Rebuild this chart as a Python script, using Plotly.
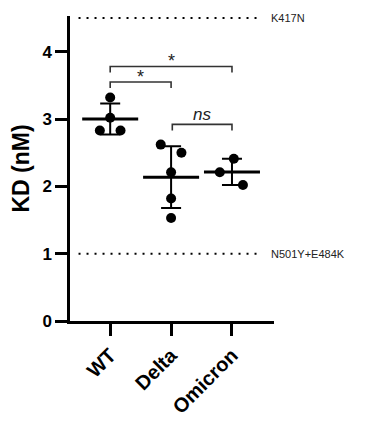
import numpy as np
import plotly.graph_objects as go

# ---- data ----
groups = ["WT", "Delta", "Omicron"]
wt_kd = [3.32, 3.02, 2.83, 2.83]
delta_kd = [2.62, 2.50, 2.21, 1.82, 1.53]
omicron_kd = [2.21, 2.41, 2.02]
# horizontal scatter offsets of each dot (in category units)
wt_jitter = [0.0, 0.0, -0.17, 0.17]
delta_jitter = [-0.17, 0.17, 0.0, 0.0, 0.0]
omicron_jitter = [-0.2, 0.03, 0.18]
y_ticks = [0, 1, 2, 3, 4]
ref_values = [4.5, 1.0]
ref_labels = ["K417N", "N501Y+E484K"]
comparisons = [(0, 1, "*"), (0, 2, "*"), (1, 2, "ns")]
bracket_heights = [3.55, 3.78, 2.92]

FONT = "Arial, Liberation Sans, sans-serif"
all_vals = [wt_kd, delta_kd, omicron_kd]
all_jit = [wt_jitter, delta_jitter, omicron_jitter]

fig = go.Figure()

means = [float(np.mean(v)) for v in all_vals]
sds = [float(np.std(v, ddof=1)) for v in all_vals]
xs = list(range(len(groups)))

# mean line + SD error bars
fig.add_trace(go.Scatter(
    x=xs, y=means, mode="markers",
    marker=dict(symbol="line-ew", size=40, color="black",
                line=dict(width=3, color="black")),
    error_y=dict(type="data", array=sds, visible=True, width=10,
                 thickness=2, color="black"),
    showlegend=False, hoverinfo="skip"))

# individual points
for i, (vals, jit) in enumerate(zip(all_vals, all_jit)):
    fig.add_trace(go.Scatter(
        x=[i + j for j in jit], y=vals, mode="markers",
        marker=dict(size=10, color="black"),
        showlegend=False, cliponaxis=False))

# reference dotted lines
for val, lab in zip(ref_values, ref_labels):
    fig.add_shape(type="line", xref="x", yref="y", x0=-0.52, x1=2.49,
                  y0=val, y1=val,
                  line=dict(color="black", width=2, dash="2px,6px"))
    fig.add_annotation(x=2.6, y=val, xref="x", yref="y", text=lab,
                       showarrow=False, xanchor="left", yanchor="middle",
                       font=dict(family=FONT, size=11, color="#222"))

# significance brackets
for (a, b, lab), h in zip(comparisons, bracket_heights):
    xa = a + (0.02 if lab == "ns" else 0.0)
    fig.add_trace(go.Scatter(
        x=[xa, xa, b, b], y=[h - 0.09, h, h, h - 0.09], mode="lines",
        line=dict(color="#333", width=1.6), showlegend=False,
        hoverinfo="skip"))
    if lab == "*":
        fig.add_annotation(x=(a + b) / 2, y=h + 0.08, text=lab,
                           showarrow=False, yanchor="middle",
                           font=dict(family=FONT, size=18, color="#222"))
    else:
        fig.add_annotation(x=(xa + b) / 2, y=h + 0.14,
                           text="<i>" + lab + "</i>", showarrow=False,
                           yanchor="middle",
                           font=dict(family=FONT, size=17, color="#222"))

# page body has an 8px default margin, so the figure is offset by 8px
fig.update_layout(
    width=360, height=419,
    margin=dict(l=62, r=94, t=8, b=106),
    paper_bgcolor="white", plot_bgcolor="white",
    font=dict(family=FONT, color="black"),
    xaxis=dict(range=[-0.66, 2.69], tickmode="array", tickvals=xs,
               ticktext=["<b>%s</b>" % g for g in groups],
               tickangle=-45, ticks="outside", ticklen=12, tickwidth=2.5,
               tickcolor="black", showline=True, linewidth=2.5,
               linecolor="black", showgrid=False, zeroline=False,
               automargin=False,
               tickfont=dict(family=FONT, size=20, color="black")),
    yaxis=dict(range=[0, 4.53], tickmode="array", tickvals=y_ticks,
               ticktext=["<b>%d</b>" % t for t in y_ticks],
               ticks="outside", ticklen=12, tickwidth=2.5,
               tickcolor="black", showline=True, linewidth=2.5,
               linecolor="black", showgrid=False, zeroline=False,
               automargin=False,
               tickfont=dict(family=FONT, size=17, color="black"),
               title=dict(text="<b>KD (nM)</b>", standoff=8,
                          font=dict(family=FONT, size=23, color="black"))),
)

fig.write_html("out.html")
